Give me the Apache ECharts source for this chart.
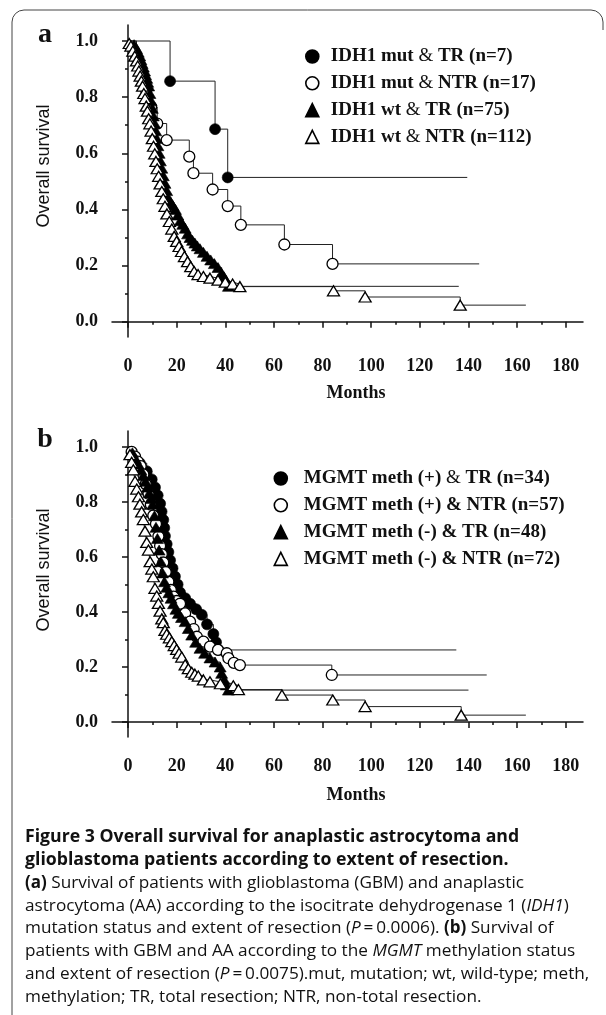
<!DOCTYPE html>
<html><head><meta charset="utf-8">
<script src="https://cdn.jsdelivr.net/npm/echarts@6/dist/echarts.min.js"></script>
<style>html,body{margin:0;padding:0;background:#fff}#c{width:606px;height:1015px}</style>
</head><body><div id="c"></div>
<script>
// ---------- Panel a (IDH1) ----------
const aMutTR_t = [0, 17.3, 35.8, 41, 139.5];
const aMutTR_s = [1, 0.857, 0.686, 0.514, 0.514];
const aMutNTR_t = [0, 3.5, 5.5, 7.5, 9.5, 12, 15.9, 25.2, 26.9, 34.8, 41, 46.4, 64.3, 84.1, 144.4];
const aMutNTR_s = [1, 0.941, 0.882, 0.824, 0.765, 0.706, 0.647, 0.588, 0.529, 0.471, 0.412, 0.345, 0.275, 0.206, 0.206];
const aWtTR_t = [0,2.5,3.5,4.2,4.8,5.3,5.8,6.3,6.8,7.2,7.7,8.1,8.5,9.0,9.5,10.0,10.4,10.9,11.4,11.8,12.3,12.8,13.3,13.9,14.5,15.2,15.9,16.6,17.5,18.5,19.5,20.5,21.5,22.5,23.5,24.5,25.5,26.5,27.5,28.5,29.6,31,32.5,34,35.5,37,38.5,39.5,40.3,41.3,136];
const aWtTR_s = [1,0.987,0.973,0.96,0.947,0.933,0.92,0.907,0.893,0.88,0.867,0.853,0.84,0.813,0.787,0.76,0.733,0.707,0.68,0.653,0.627,0.6,0.573,0.547,0.52,0.493,0.467,0.44,0.427,0.413,0.40,0.38,0.36,0.347,0.333,0.313,0.30,0.29,0.28,0.27,0.26,0.247,0.233,0.22,0.207,0.193,0.173,0.16,0.147,0.126,0.126];
const aWtNTR_t = [0,0.5,1.2,2,2.8,3.5,4,4.5,5,5.5,6,6.5,7,7.5,8,8.5,9,9.5,10,10.5,11,11.5,12,12.6,13.2,13.9,14.5,15.2,16,17,18,19,20,21,22,23.2,24.5,25.8,27.2,28.8,31,33.7,37,40,43,46,84.5,97.5,136.6,163.6];
const aWtNTR_s = [1,0.991,0.982,0.964,0.946,0.929,0.911,0.893,0.875,0.857,0.839,0.813,0.795,0.768,0.75,0.723,0.705,0.679,0.652,0.625,0.598,0.571,0.545,0.518,0.491,0.464,0.438,0.411,0.384,0.357,0.33,0.304,0.286,0.268,0.25,0.232,0.214,0.196,0.179,0.168,0.161,0.155,0.148,0.141,0.134,0.125,0.11,0.088,0.059,0.059];
const aNames = ['IDH1 mut & TR (n=7)', 'IDH1 mut & NTR (n=17)', 'IDH1 wt & TR (n=75)', 'IDH1 wt & NTR (n=112)'];

// ---------- Panel b (MGMT) ----------
const bPosTR_t = [0,2.2,4.9,7.7,9.75,11.1,12.2,13.2,13.8,14.5,14.9,15.2,15.9,16.6,17.3,18.3,19.3,20.4,21.4,23.5,25.5,28,30.3,32.5,35.1,36.2,37.2,135];
const bPosTR_s = [1,0.971,0.941,0.912,0.882,0.853,0.824,0.794,0.765,0.735,0.706,0.676,0.647,0.618,0.588,0.559,0.529,0.5,0.471,0.45,0.43,0.41,0.39,0.355,0.32,0.29,0.262,0.262];
const bPosNTR_t = [0,1.5,2.9,4,5.2,6.3,7.3,8.4,9.4,10.4,11.5,12.5,13.2,13.9,14.5,15.5,16.6,17.6,18.7,20,21.4,23.5,25.5,27,28.3,31,33.7,37,40.6,41.3,43.5,46,83.8,147.5];
const bPosNTR_s = [1,0.982,0.965,0.947,0.93,0.9,0.865,0.83,0.79,0.75,0.72,0.675,0.64,0.61,0.58,0.545,0.51,0.48,0.456,0.44,0.43,0.395,0.365,0.338,0.31,0.292,0.274,0.262,0.25,0.232,0.215,0.207,0.171,0.171];
const bNegTR_t = [0,1.8,3,4.2,5.3,6.3,7.2,8,8.8,9.5,10.2,10.9,11.5,12.1,12.8,13.5,14.2,15,15.9,16.8,17.7,18.7,19.7,20.7,22,23.5,24.8,26.2,27.8,29.6,31.5,33.7,35.8,37.9,38.5,39.5,40.4,41.3,140];
const bNegTR_s = [1,0.979,0.958,0.938,0.917,0.896,0.875,0.854,0.833,0.813,0.792,0.75,0.708,0.667,0.625,0.583,0.542,0.51,0.49,0.47,0.45,0.43,0.41,0.395,0.38,0.365,0.34,0.316,0.29,0.268,0.25,0.233,0.218,0.2,0.177,0.155,0.135,0.116,0.116];
const bNegNTR_t = [0,0.8,1.5,2.2,2.9,3.6,4.3,4.9,5.6,6.3,7,7.7,8.4,9.1,9.8,10.4,11.1,11.8,12.5,13.2,13.9,14.5,15.2,15.9,17,18,19,20,21,22.1,23.5,24.8,26.2,27.5,28.9,31,33.7,38,43.3,45.4,63.3,84.2,97.5,137,163.6];
const bNegNTR_s = [1,0.972,0.944,0.917,0.875,0.847,0.819,0.792,0.764,0.736,0.694,0.653,0.625,0.583,0.556,0.528,0.486,0.458,0.431,0.403,0.375,0.361,0.333,0.319,0.306,0.292,0.278,0.264,0.25,0.236,0.208,0.194,0.181,0.174,0.167,0.153,0.146,0.139,0.132,0.118,0.098,0.08,0.056,0.025,0.025];
const bNames = ['MGMT meth (+) & TR (n=34)', 'MGMT meth (+) & NTR (n=57)', 'MGMT meth (-) & TR (n=48)', 'MGMT meth (-) & NTR (n=72)'];

// ---------- Axis ticks / texts ----------
const monthTicks = [0, 180, 20];     // min, max, interval
const survTicks = [0, 1, 0.2];
const xTitle = 'Months';
const yTitle = 'Overall survival';
const captionLines = [
  '{b|Figure 3 Overall survival for anaplastic astrocytoma and}',
  '{b|glioblastoma patients according to extent of resection.}',
  '{bs|(a)} Survival of patients with glioblastoma (GBM) and anaplastic',
  'astrocytoma (AA) according to the isocitrate dehydrogenase 1 ({i|IDH1})',
  'mutation status and extent of resection ({i|P}\u2009=\u20090.0006). {bs|(b)} Survival of',
  'patients with GBM and AA according to the {i|MGMT} methylation status',
  'and extent of resection ({i|P}\u2009=\u20090.0075).mut, mutation; wt, wild-type; meth,',
  'methylation; TR, total resection; NTR, non-total resection.'
];

const SERIF = 'Liberation Serif';
const SANS = 'Liberation Sans';
const CAP = 'Open Sans';

function km(t, s) {
  return t.map((x, i) => {
    const d = { value: [x, s[i]] };
    if (i === 0 || i === t.length - 1) d.symbol = 'none';
    return d;
  });
}
function ser(name, t, s, symbol, filled, idx) {
  return {
    name, type: 'line', step: 'end', xAxisIndex: idx, yAxisIndex: idx,
    data: km(t, s), symbol, symbolSize: symbol === 'circle' ? 11 : [12, 10],
    showAllSymbol: true, animation: false, emphasis: { disabled: true },
    lineStyle: { color: '#222', width: 1 },
    itemStyle: { color: filled ? '#000' : '#fff', borderColor: '#000', borderWidth: filled ? 0.6 : 1.3 }
  };
}

function dataAxes(gi) {
  return {
    x: { gridIndex: gi, type: 'value', min: -6.58, max: 187.09, axisLine: { show: true, lineStyle: { color: '#111', width: 1.5 } },
         axisTick: { show: false }, axisLabel: { show: false }, splitLine: { show: false } },
    y: { gridIndex: gi, type: 'value', min: -0.0545, max: gi === 0 ? 1.057 : 1.058, axisLine: { show: true, lineStyle: { color: '#111', width: 1.5 } },
         axisTick: { show: false }, axisLabel: { show: false }, splitLine: { show: false } }
  };
}
const labelFont = { fontFamily: SERIF, fontWeight: 'bold', fontSize: 18, color: '#111' };
function tickAxes(gi, xOff, yOff) {
  return {
    x: { gridIndex: gi, type: 'value', min: monthTicks[0], max: monthTicks[1], interval: monthTicks[2], offset: xOff,
         axisLine: { show: false }, splitLine: { show: false },
         axisTick: { show: true, length: 6, lineStyle: { color: '#111', width: 1.5 } },
         minorTick: { show: true, splitNumber: 2, length: 3, lineStyle: { color: '#111', width: 1.5 } },
         axisLabel: Object.assign({ margin: 20 }, labelFont) },
    y: { gridIndex: gi, type: 'value', min: survTicks[0], max: survTicks[1], interval: survTicks[2], offset: yOff,
         axisLine: { show: false }, splitLine: { show: false },
         axisTick: { show: true, length: 6, lineStyle: { color: '#111', width: 1.5 } },
         minorTick: { show: true, splitNumber: 2, length: 3, lineStyle: { color: '#111', width: 1.5 } },
         axisLabel: Object.assign({ margin: 14, formatter: v => v.toFixed(1) }, labelFont) }
  };
}
const d0 = dataAxes(0), t1 = tickAxes(1, 15.3, 16), d2 = dataAxes(2), t3 = tickAxes(3, 15, 16);

function legendCfg(names, icons, left, top, pad, thinAmp) {
  return {
    data: names.map((n, i) => ({ name: n, icon: icons[i] })),
    orient: 'vertical', left, top, padding: 0, itemWidth: 13, itemHeight: 13, itemGap: 6.8,
    selectedMode: false,
    itemStyle: { borderWidth: 1.6 },
    formatter: name => thinAmp.includes(name) ? name.replace('&', '{n|&}') : name,
    textStyle: { fontFamily: SERIF, fontWeight: 'bold', fontSize: 19, color: '#111', lineHeight: 20, padding: [0, 0, 0, pad],
      rich: { n: { fontFamily: SERIF, fontWeight: 'normal', fontSize: 19, color: '#111', lineHeight: 20 } } }
  };
}

const graphics = [
  { type: 'polyline', shape: { points: [[12,1015],[12,22],[12.9,17.4],[15.5,13.5],[19.4,10.9],[24,10],[591,10],[595.6,10.9],[599.5,13.5],[602.1,17.4],[603,22],[603,30]] },
    style: { fill: null, stroke: '#444', lineWidth: 1 }, silent: true },
  { type: 'text', x: 45, y: 35, style: { text: 'a', fontFamily: SERIF, fontWeight: 'bold', fontSize: 28, fill: '#111', align: 'center', verticalAlign: 'middle' } },
  { type: 'text', x: 45, y: 440, style: { text: 'b', fontFamily: SERIF, fontWeight: 'bold', fontSize: 28, fill: '#111', align: 'center', verticalAlign: 'middle' } },
  { type: 'text', x: 44, y: 166, rotation: Math.PI / 2, style: { text: yTitle, fontFamily: SANS, fontSize: 18, fill: '#111', align: 'center', verticalAlign: 'middle' } },
  { type: 'text', x: 44, y: 570, rotation: Math.PI / 2, style: { text: yTitle, fontFamily: SANS, fontSize: 18, fill: '#111', align: 'center', verticalAlign: 'middle' } },
  { type: 'text', x: 356, y: 393, style: { text: xTitle, fontFamily: SERIF, fontWeight: 'bold', fontSize: 18, fill: '#111', align: 'center', verticalAlign: 'middle' } },
  { type: 'text', x: 356, y: 795, style: { text: xTitle, fontFamily: SERIF, fontWeight: 'bold', fontSize: 18, fill: '#111', align: 'center', verticalAlign: 'middle' } }
];
const capRich = {
  b: { fontFamily: CAP, fontWeight: 'bold', fontSize: 17.7, fill: '#111' },
  bs: { fontFamily: CAP, fontWeight: 'bold', fontSize: 17, fill: '#111' },
  i: { fontFamily: CAP, fontStyle: 'italic', fontSize: 17.2, fill: '#111' }
};
captionLines.forEach((ln, i) => {
  graphics.push({ type: 'text', x: 25, y: 837 + i * 22.9,
    style: { text: ln, rich: capRich, fontFamily: CAP, fontSize: 17.2, fill: '#111', align: 'left', verticalAlign: 'middle' } });
});

const option = {
  backgroundColor: '#fff',
  animation: false,
  grid: [
    { left: 112, top: 25, width: 471, height: 312 },
    { left: 128, top: 41, width: 437.8, height: 280.7 },
    { left: 112, top: 431, width: 471, height: 306 },
    { left: 128, top: 447, width: 437.8, height: 275 }
  ],
  xAxis: [d0.x, t1.x, d2.x, t3.x],
  yAxis: [d0.y, t1.y, d2.y, t3.y],
  legend: [
    legendCfg(aNames, ['circle', 'circle', 'triangle', 'triangle'], 305, 46.5, 7, aNames),
    legendCfg(bNames, ['circle', 'circle', 'triangle', 'triangle'], 273.5, 468.5, 11.5, [bNames[0]])
  ],
  series: [
    ser(aNames[0], aMutTR_t, aMutTR_s, 'circle', true, 0),
    ser(aNames[1], aMutNTR_t, aMutNTR_s, 'circle', false, 0),
    ser(aNames[2], aWtTR_t, aWtTR_s, 'triangle', true, 0),
    ser(aNames[3], aWtNTR_t, aWtNTR_s, 'triangle', false, 0),
    ser(bNames[0], bPosTR_t, bPosTR_s, 'circle', true, 2),
    ser(bNames[1], bPosNTR_t, bPosNTR_s, 'circle', false, 2),
    ser(bNames[2], bNegTR_t, bNegTR_s, 'triangle', true, 2),
    ser(bNames[3], bNegNTR_t, bNegNTR_s, 'triangle', false, 2)
  ],
  graphic: graphics
};
const chart = echarts.init(document.getElementById('c'));
chart.setOption(option);
</script></body></html>
